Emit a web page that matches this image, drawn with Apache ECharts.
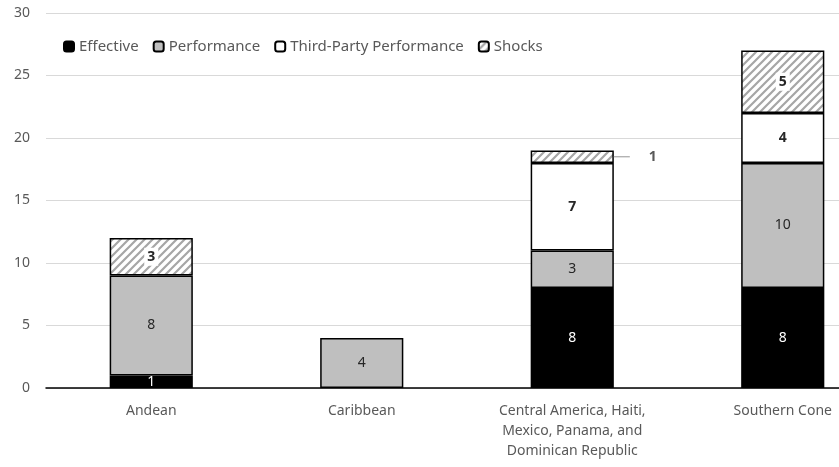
<!DOCTYPE html>
<html>
<head>
<meta charset="utf-8">
<script src="https://cdn.jsdelivr.net/npm/echarts@6/dist/echarts.min.js"></script>
<style>
  html, body { margin: 0; padding: 0; background: #fff; overflow: hidden; }
  /* canvas is wider than the view; the plot's right end is cut off */
  #chart { width: 888px; height: 467px; }
</style>
</head>
<body>
<div id="chart"></div>
<script>
// Regions and stacked counts per category
const regions = ['Andean', 'Caribbean', 'Central America, Haiti,\nMexico, Panama, and\nDominican Republic', 'Southern Cone'];
const effective = [1, null, 8, 8];
const performance = [8, 4, 3, 10];
const thirdParty = [null, null, 7, 4];
const shocks = [3, null, 1, 5];
const yTicks = { min: 0, max: 30, interval: 5 };

const FONT = 'Noto Sans';
const TXT = '#595959';

// Diagonal hatch used for the "Shocks" segments
function hatchPattern() {
  const c = document.createElement('canvas');
  const s = 8;
  c.width = s; c.height = s;
  const g = c.getContext('2d');
  g.fillStyle = '#ffffff';
  g.fillRect(0, 0, s, s);
  g.strokeStyle = '#a6a6a6';
  g.lineWidth = 2.2;
  g.beginPath();
  g.moveTo(-2, s + 2); g.lineTo(s + 2, -2);
  g.moveTo(-2, 2); g.lineTo(2, -2);
  g.moveTo(s - 2, s + 2); g.lineTo(s + 2, s - 2);
  g.stroke();
  return c;
}
const hatch = { image: hatchPattern(), repeat: 'repeat' };

const border = { borderColor: '#000', borderWidth: 1.5 };

function seg(name, data, fill, label) {
  return {
    name, type: 'bar', stack: 'total', data,
    barWidth: '39.5%',
    itemStyle: Object.assign({ color: fill }, border),
    label: Object.assign({ show: true, position: 'inside', fontFamily: FONT, fontSize: 14 }, label),
    emphasis: { disabled: true }
  };
}

const shockData = shocks.map((v, i) => {
  if (v === 1) {
    // Small segment: value sits outside with a short leader line
    return {
      value: v,
      label: {
        position: 'right', distance: 0, backgroundColor: 'transparent', padding: 0,
        formatter: '{ln|}{sp|}{b|{c}}',
        rich: {
          ln: { width: 16, height: 1.2, backgroundColor: '#a6a6a6', padding: 0 },
          sp: { width: 19 },
          b: { fontWeight: 'bold', color: TXT, fontSize: 14, fontFamily: FONT }
        }
      }
    };
  }
  return v;
});

const chart = echarts.init(document.getElementById('chart'));
chart.setOption({
  animation: false,
  textStyle: { fontFamily: FONT },
  grid: { left: 46, right: 0, top: 13, bottom: 79, containLabel: false },
  legend: {
    left: 58, top: 34,
    itemWidth: 10, itemHeight: 10, itemGap: 14,
    textStyle: { fontFamily: FONT, fontSize: 15, color: TXT },
    data: ['Effective', 'Performance', 'Third-Party Performance', 'Shocks']
  },
  xAxis: {
    type: 'category', data: regions,
    axisLine: { lineStyle: { color: '#000', width: 1.5 } },
    axisTick: { show: false },
    axisLabel: { color: TXT, fontSize: 14, fontFamily: FONT, margin: 13, lineHeight: 20, interval: 0 }
  },
  yAxis: {
    type: 'value', min: yTicks.min, max: yTicks.max, interval: yTicks.interval,
    axisLine: { show: false }, axisTick: { show: false },
    splitLine: { lineStyle: { color: '#d9d9d9', width: 1 } },
    axisLabel: { color: TXT, fontSize: 14, fontFamily: FONT, margin: 16 }
  },
  series: [
    seg('Effective', effective, '#000000', { color: '#ffffff' }),
    seg('Performance', performance, '#bfbfbf', { color: '#262626' }),
    seg('Third-Party Performance', thirdParty, '#ffffff', { color: '#262626', fontWeight: 'bold' }),
    seg('Shocks', shockData, hatch, {
      color: '#262626', fontWeight: 'bold', backgroundColor: '#ffffff', padding: [2, 3]
    })
  ]
});
</script>
</body>
</html>
